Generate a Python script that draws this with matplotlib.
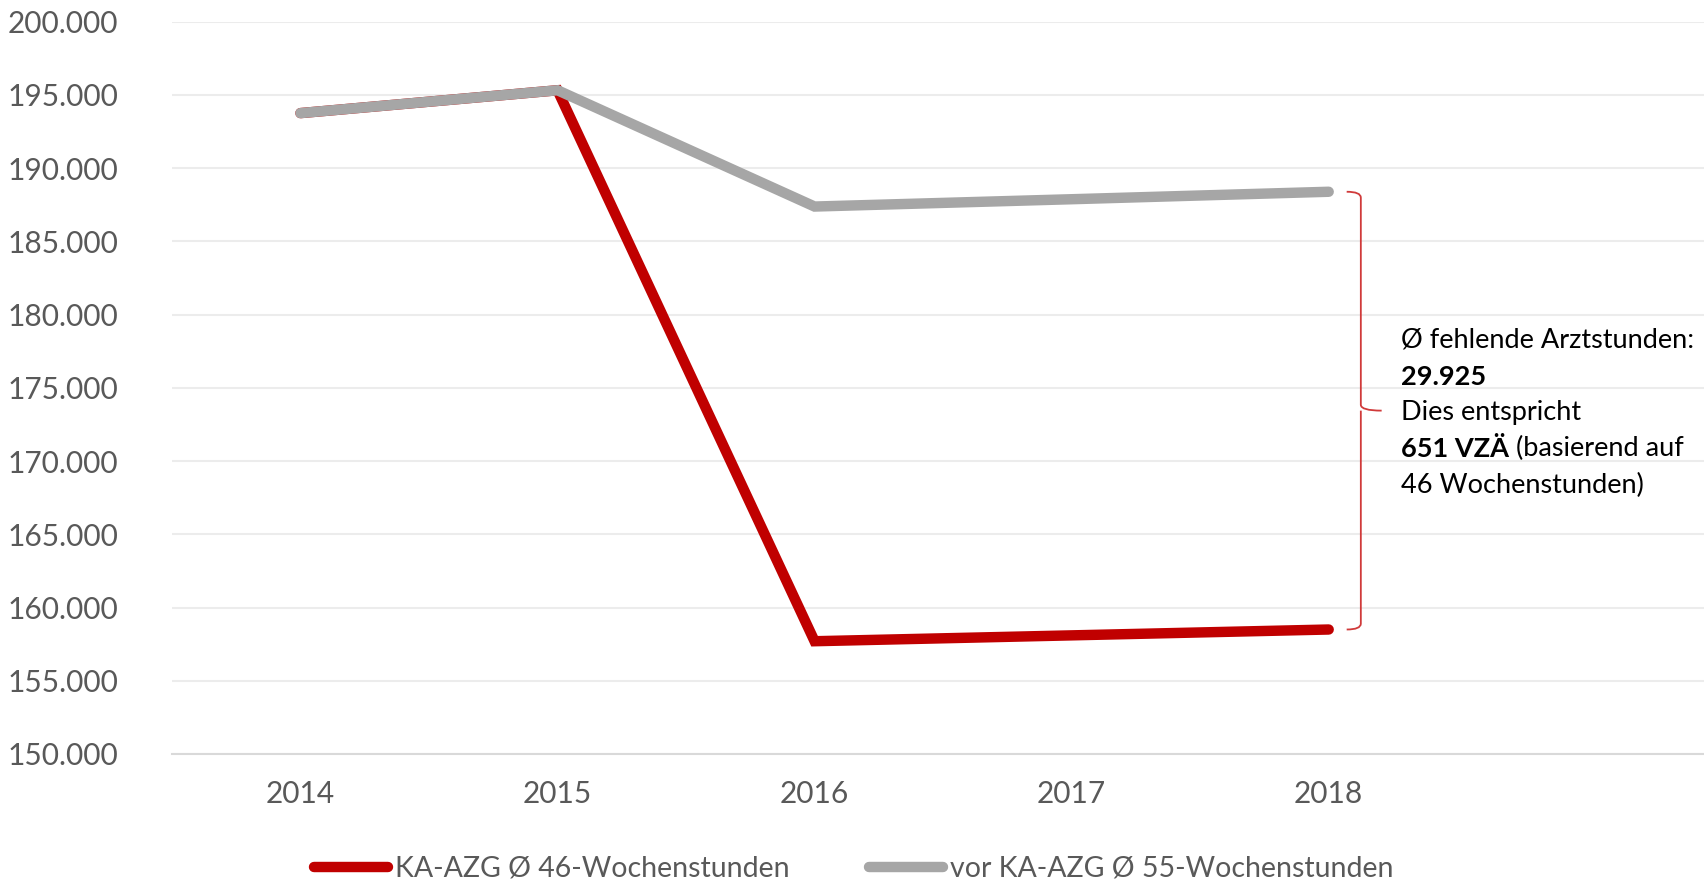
import matplotlib
matplotlib.use("Agg")
import matplotlib.pyplot as plt
from matplotlib.path import Path
from matplotlib.patches import PathPatch
from matplotlib.ticker import FuncFormatter, MultipleLocator

years = ["2014", "2015", "2016", "2017", "2018"]
ka_azg_46 = [193760, 195320, 157700, 158100, 158500]
vor_ka_azg_55 = [193760, 195320, 187380, 187880, 188390]
series_labels = ["KA-AZG Ø 46-Wochenstunden", "vor KA-AZG Ø 55-Wochenstunden"]
note_lines = ["Ø fehlende Arztstunden:", "29.925", "Dies entspricht", "651 VZÄ", " (basierend auf", "46 Wochenstunden)"]

RED = "#c00000"
GRAY = "#a6a6a6"
TXT = "#595959"
FONT = ["Lato", "DejaVu Sans"]
plt.rcParams["font.family"] = FONT

fig = plt.figure(figsize=(17.04, 8.83), dpi=100)
ax = fig.add_axes([0.1009, 0.1461, 0.8991, 0.8293])
x = list(range(len(years)))

ax.plot(x, ka_azg_46, color=RED, lw=7.5, solid_capstyle="round", solid_joinstyle="miter", zorder=3, label=series_labels[0])
ax.plot(x, vor_ka_azg_55, color=GRAY, lw=7.5, solid_capstyle="round", solid_joinstyle="miter", zorder=4, label=series_labels[1])

ax.set_xlim(-0.5, 5.46)
ax.set_ylim(150000, 200000)
ax.yaxis.set_major_locator(MultipleLocator(5000))
ax.yaxis.set_major_formatter(FuncFormatter(lambda v, p: f"{int(v):,}".replace(",", ".")))
ax.set_xticks(x)
ax.set_xticklabels(years)
ax.grid(axis="y", color="#ececec", lw=1.5)
ax.set_axisbelow(True)
for s in ["top", "right", "left"]:
    ax.spines[s].set_visible(False)
ax.spines["bottom"].set_color("#d9d9d9")
ax.spines["bottom"].set_linewidth(1.5)
ax.tick_params(axis="both", length=0, labelsize=21.5, labelcolor=TXT)
ax.tick_params(axis="y", pad=38.5)
ax.tick_params(axis="x", pad=19)

# bracket
y_top = vor_ka_azg_55[-1]
y_bot = ka_azg_46[-1]
y_mid = (y_top + y_bot) / 2
x0, x1, x2 = 4.07, 4.125, 4.206
dy = 400
verts = [(x0, y_top), (x1, y_top), (x1, y_top - dy),
         (x1, y_mid + dy),
         (x1, y_mid), (x2, y_mid),
         (x1, y_mid), (x1, y_mid - dy),
         (x1, y_bot + dy),
         (x1, y_bot), (x0, y_bot)]
codes = [Path.MOVETO, Path.CURVE3, Path.CURVE3,
         Path.LINETO,
         Path.CURVE3, Path.CURVE3,
         Path.MOVETO, Path.CURVE3,
         Path.LINETO,
         Path.CURVE3, Path.CURVE3]
ax.add_patch(PathPatch(Path(verts, codes), fill=False, edgecolor="#d03a3a", lw=1.3, clip_on=False, zorder=5))

tx = 4.28
ys = [178258, 175734, 173340, 170813, 168354]
fs = 19.5
kw = dict(fontsize=fs, color="black", va="center", ha="left")
ax.text(tx, ys[0], note_lines[0], **kw)
ax.text(tx, ys[1], note_lines[1], fontweight="bold", **kw)
ax.text(tx, ys[2], note_lines[2], **kw)
b = ax.text(tx, ys[3], note_lines[3], fontweight="bold", **kw)
ax.annotate(note_lines[4], xy=(1, 0), xycoords=b, va="bottom", ha="left", fontsize=fs, color="black")
ax.text(tx, ys[4], note_lines[5], **kw)

fig.legend(loc="center", bbox_to_anchor=(0.501, 0.016), ncol=2, frameon=False,
           fontsize=20.5, labelcolor=TXT, handlelength=2.6, handletextpad=0.25,
           columnspacing=2.8, borderaxespad=0)

fig.savefig("out.png", dpi=100)
